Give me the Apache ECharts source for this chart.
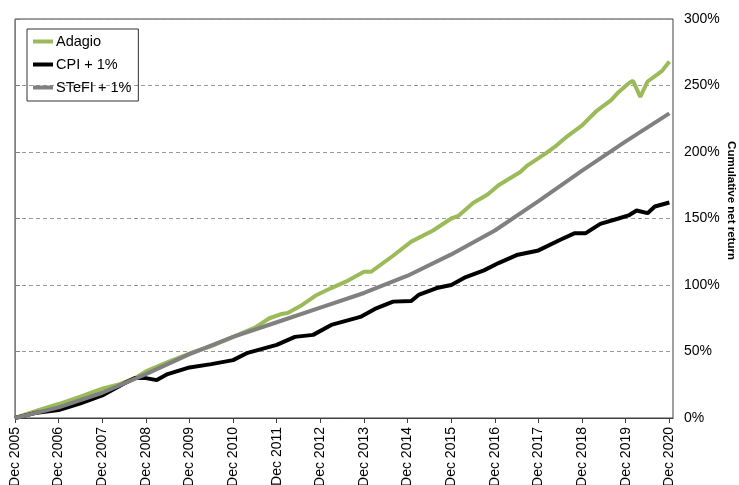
<!DOCTYPE html>
<html>
<head>
<meta charset="utf-8">
<script src="https://cdn.jsdelivr.net/npm/echarts@6/dist/echarts.min.js"></script>
<style>
html,body{margin:0;padding:0;background:#fff;}
#chart{width:739px;height:485px;}
</style>
</head>
<body>
<div id="chart"></div>
<script>
// Months counted from Dec 2005 (0) to Dec 2020 (180)
const startYear = 2005;
const seriesNames = ['Adagio', 'CPI + 1%', 'STeFI + 1%'];

const adagioMonths = [0, 6, 12, 18, 24, 29, 33, 36, 42, 48, 54, 60, 66, 70, 73, 75, 79, 83, 87, 91, 96, 98, 104, 109, 115, 120, 122, 126, 130, 133, 139, 141, 146, 149, 152, 156, 160, 164, 166, 169, 170, 172, 174, 177, 178, 180];
const adagioValues = [0, 5.5, 10.5, 16, 22, 25.6, 30, 35, 42, 48.5, 54, 61, 68, 75, 78, 79, 85, 92.5, 97.7, 102.5, 110, 110, 122, 132.6, 141, 150, 152, 161.6, 168, 175, 185, 190, 199, 205, 212, 220, 231, 239, 245, 252, 253.5, 241.5, 253, 259, 261, 268];

const cpiMonths = [0, 6, 12, 18, 24, 30, 33, 36, 39, 42, 48, 54, 60, 64, 72, 77, 82, 87, 95, 99, 104, 109, 111, 116, 120, 124, 129, 133, 138, 144, 150, 154, 157, 161, 166, 169, 171, 174, 176, 180];
const cpiValues = [0, 4, 6, 11, 17, 26, 30, 30, 28.5, 33, 38, 40.5, 43.5, 49, 55, 61, 62.5, 70, 76, 82, 87.5, 88, 92.5, 97.7, 100, 106, 111, 116.5, 122.5, 126, 134, 139, 139, 146, 150, 152.6, 156, 154, 159, 162];

const stefiMonths = [0, 12, 24, 36, 48, 60, 72, 84, 96, 108, 120, 132, 144, 156, 168, 180];
const stefiValues = [0, 8, 19, 33, 48, 61, 72, 83, 94, 107, 123, 141, 163, 186, 208, 229];

const yTicks = [0, 50, 100, 150, 200, 250, 300];

function pairs(xs, ys){ return xs.map((m, i) => [m, ys[i]]); }

const chart = echarts.init(document.getElementById('chart'), null, {renderer: 'canvas'});
const font = 'Liberation Sans, Arial, sans-serif';

chart.setOption({
  animation: false,
  backgroundColor: '#fff',
  grid: {left: 15, right: 66, top: 19, bottom: 67, show: true, borderColor: '#404040', borderWidth: 1, containLabel: false, outerBoundsMode: 'none'},
  legend: {
    orient: 'vertical', left: 27, top: 29,
    data: seriesNames,
    icon: 'rect', itemWidth: 20, itemHeight: 4, itemGap: 8,
    borderColor: '#333', borderWidth: 1, padding: [5, 7, 6, 6],
    textStyle: {fontFamily: font, fontSize: 14.5, color: '#000', padding: [0, 0, 0, -2]}
  },
  xAxis: {
    type: 'value', min: 0, max: 181, interval: 12,
    axisLine: {show: true, lineStyle: {color: '#404040', width: 1}},
    axisTick: {show: true, length: 5, lineStyle: {color: '#404040'}},
    splitLine: {show: false},
    axisLabel: {
      rotate: 90, margin: 9, fontFamily: font, fontSize: 14, color: '#000',
      showMaxLabel: false,
      formatter: v => (v % 12 === 0 && v <= 180) ? 'Dec ' + (startYear + v / 12) : ''
    }
  },
  yAxis: {
    type: 'value', position: 'right', min: yTicks[0], max: yTicks[yTicks.length - 1], interval: 50,
    name: 'Cumulative net return', nameLocation: 'middle', nameRotate: -90, nameGap: 52,
    nameMoveOverlap: false,
    nameTextStyle: {fontFamily: font, fontSize: 11.5, fontWeight: 'bold', color: '#000', padding: [0, 36, 0, 0]},
    axisLine: {show: true, lineStyle: {color: '#808080', width: 1}},
    axisTick: {show: true, length: 5, lineStyle: {color: '#808080'}},
    splitLine: {show: true, lineStyle: {color: '#999', type: [4, 3], width: 1}},
    axisLabel: {margin: 11, fontFamily: font, fontSize: 14, color: '#000', formatter: '{value}%'}
  },
  series: [
    {name: seriesNames[0], type: 'line', data: pairs(adagioMonths, adagioValues), showSymbol: false, lineStyle: {color: '#9BBB59', width: 4}, itemStyle: {color: '#9BBB59'}},
    {name: seriesNames[1], type: 'line', data: pairs(cpiMonths, cpiValues), showSymbol: false, lineStyle: {color: '#000', width: 4}, itemStyle: {color: '#000'}},
    {name: seriesNames[2], type: 'line', data: pairs(stefiMonths, stefiValues), showSymbol: false, lineStyle: {color: '#808080', width: 4}, itemStyle: {color: '#808080'}}
  ]
});
</script>
</body>
</html>
